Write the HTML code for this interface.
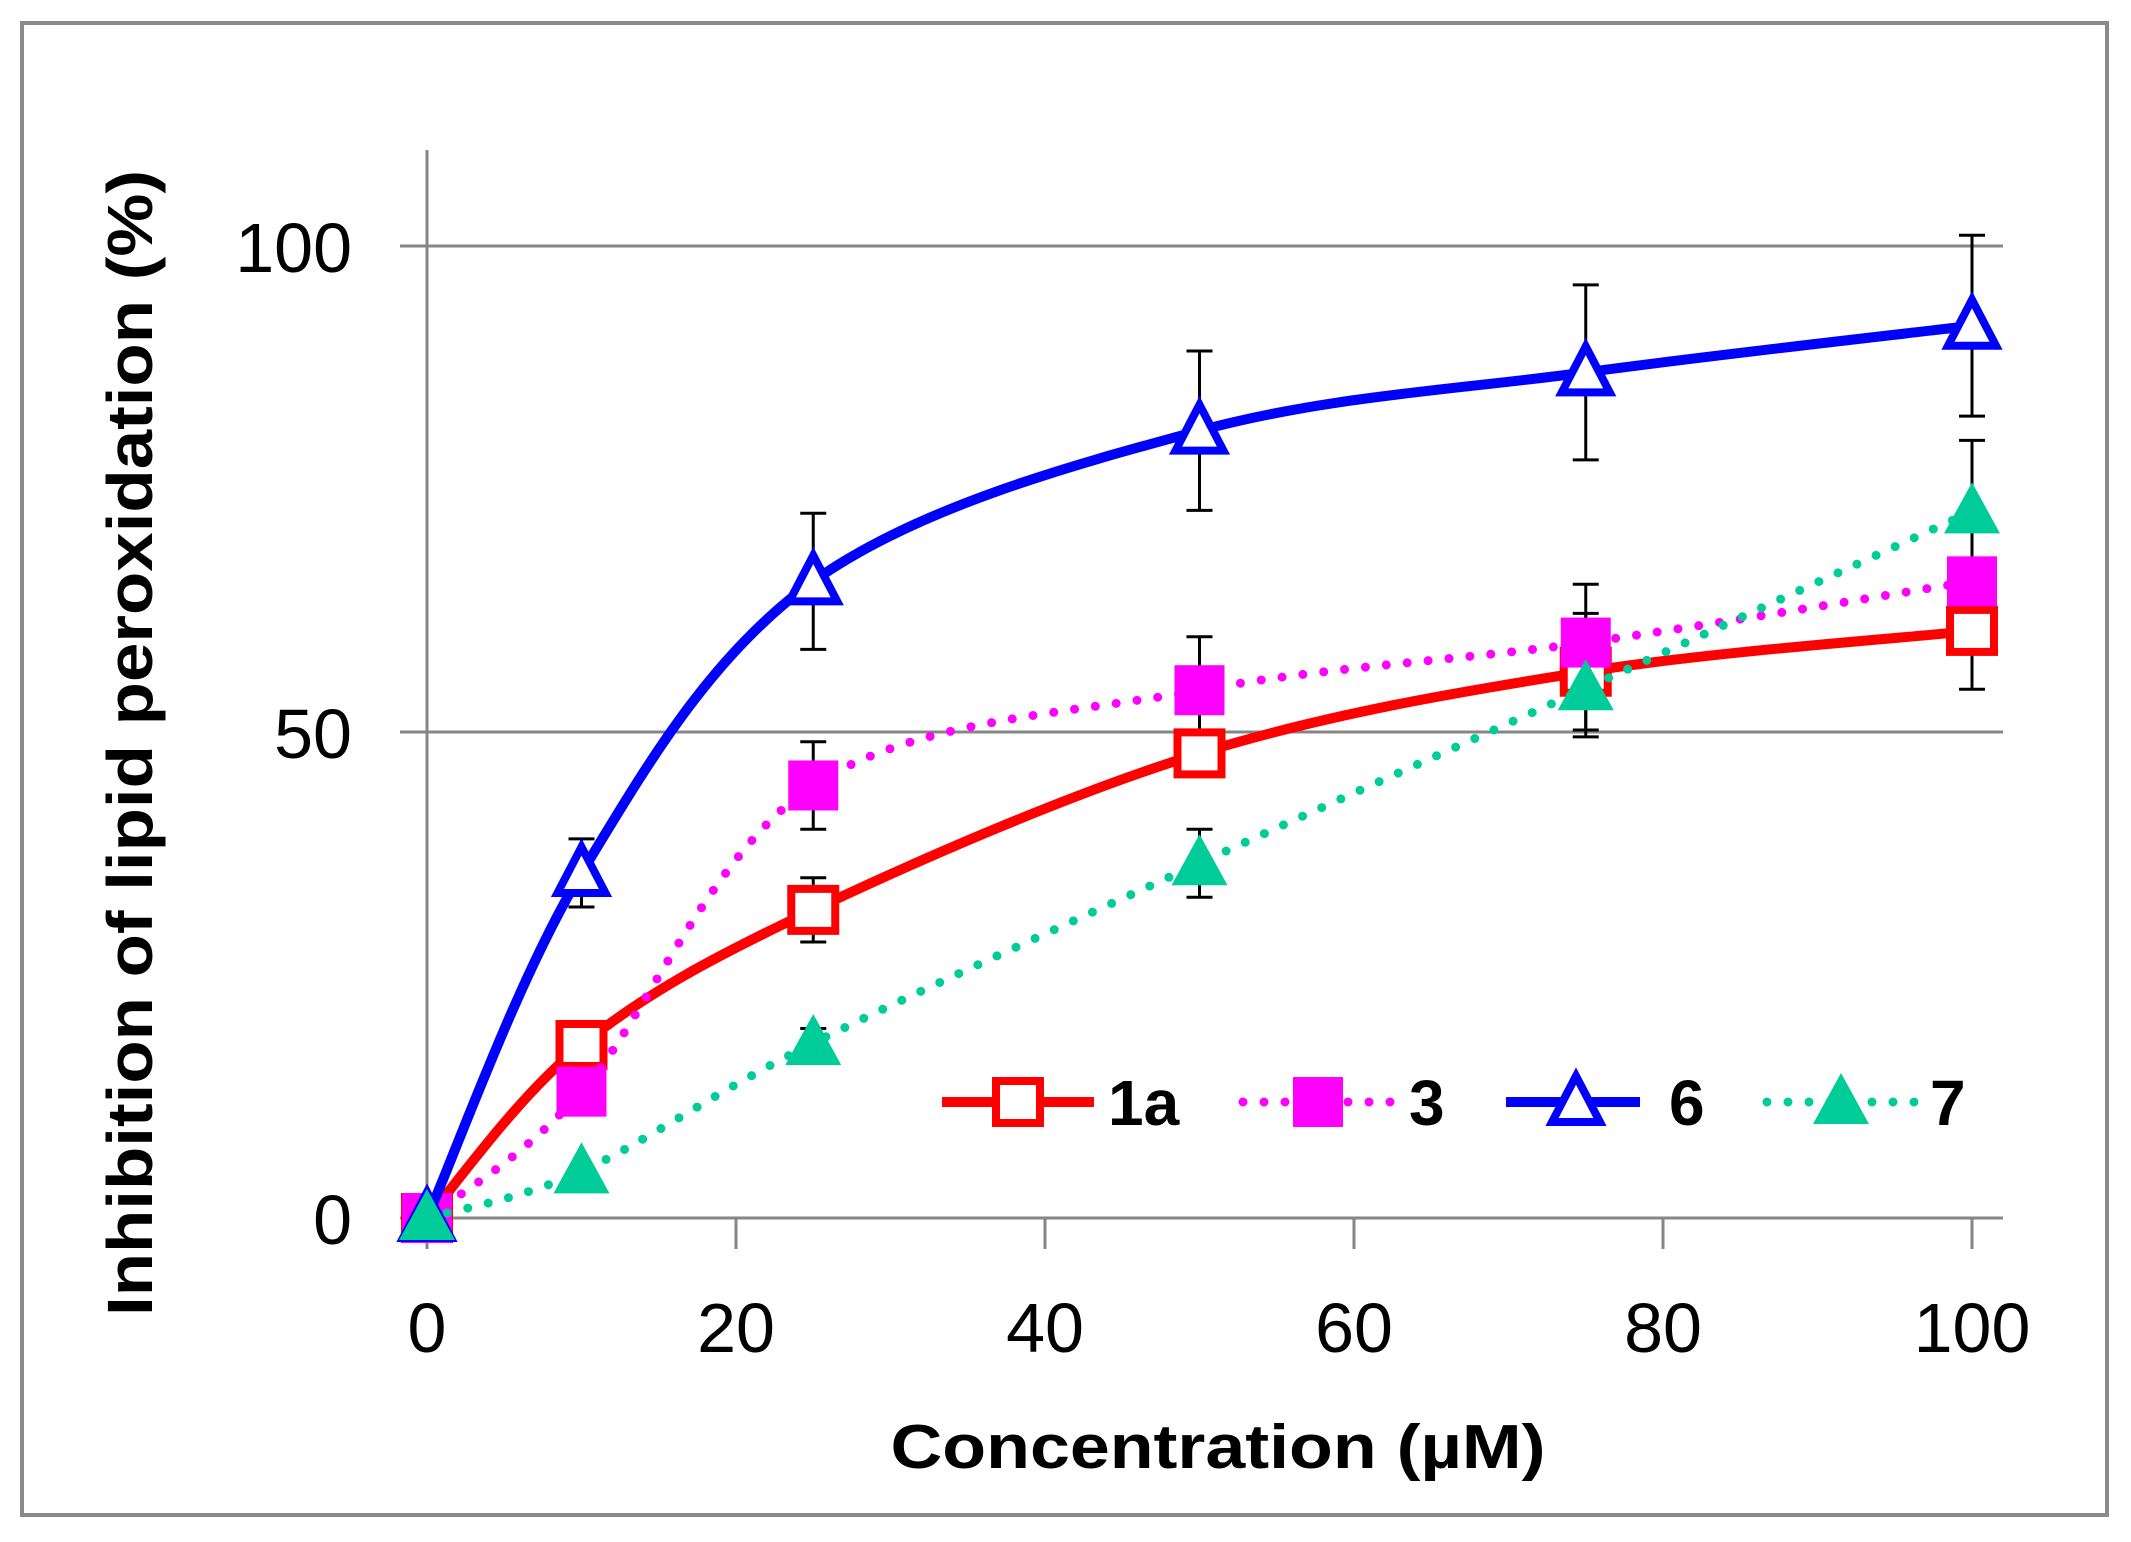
<!DOCTYPE html>
<html><head><meta charset="utf-8"><style>
html,body{margin:0;padding:0;background:#fff;}
svg{display:block;}
text{font-family:"Liberation Sans",sans-serif;}
</style></head><body>
<svg id="chart" width="2131" height="1542" viewBox="0 0 2131 1542" xmlns="http://www.w3.org/2000/svg">
<rect x="22" y="23" width="2085" height="1492" fill="#fff" stroke="#8a8a8a" stroke-width="4"/>
<g id="grid"></g>
<g id="axes"></g>
<g id="series"></g>
<g id="legend"></g>
<text x="1218" y="1468" text-anchor="middle" font-size="62" font-weight="bold" textLength="655" lengthAdjust="spacingAndGlyphs">Concentration (µM)</text>
<text transform="translate(152,743) rotate(-90)" text-anchor="middle" font-size="64" font-weight="bold" textLength="1146" lengthAdjust="spacingAndGlyphs">Inhibition of lipid peroxidation (%)</text>
</svg>
<script>
const categories = [0, 10, 25, 50, 75, 100];
const xTicks = [0, 20, 40, 60, 80, 100];
const yTicks = [0, 50, 100];
const names = ["1a", "3", "6", "7"];
const values1a = [0, 17.8, 31.7, 47.8, 56.2, 60.4];
const values3 = [0, 13, 44.5, 54.3, 59.2, 65.5];
const values6 = [0, 35.5, 65.5, 81, 87, 91.8];
const values7 = [0, 4.8, 18, 36.5, 54.5, 72.7];
const err1a = [0, 0, 3.3, 0, 6, 6];
const err3 = [0, 0, 4.5, 5.5, 6, 0];
const err6 = [0, 3.5, 7, 8.2, 9, 9.3];
const err7 = [0, 0, 1.5, 3.5, 5, 7.3];

const NS = "http://www.w3.org/2000/svg";
const X0 = 427, X1 = 1972, Y0 = 1218, Y1 = 246;
const xs = v => X0 + (v - 0) / 100 * (X1 - X0);
const ys = v => Y0 - v / 100 * (Y0 - Y1);
function mk(tag, attrs, parent) {
  const e = document.createElementNS(NS, tag);
  for (const k in attrs) e.setAttribute(k, attrs[k]);
  parent.appendChild(e);
  return e;
}
const grid = document.getElementById('grid');
const axes = document.getElementById('axes');
yTicks.forEach(t => {
  const l = mk('line', {x1: 400, x2: 2003, y1: ys(t), y2: ys(t), stroke: '#868686', 'stroke-width': 3}, grid);
  
  
  const tx = mk('text', {x: 352, y: ys(t) + 26, 'text-anchor': 'end', 'font-size': 70}, axes);
  tx.textContent = t;
  
  
});
const ya = mk('line', {x1: X0, x2: X0, y1: 150, y2: 1249, stroke: '#868686', 'stroke-width': 3}, axes);


xTicks.forEach(t => {
  const l = mk('line', {x1: xs(t), x2: xs(t), y1: Y0, y2: 1249, stroke: '#868686', 'stroke-width': 3}, axes);
  
  
  const tx = mk('text', {x: xs(t), y: 1352, 'text-anchor': 'middle', 'font-size': 70}, axes);
  tx.textContent = t;
  
  
});

function smooth(pts) {
  let d = 'M' + pts[0][0] + ',' + pts[0][1];
  const t = 1/6;
  for (let i = 0; i < pts.length - 1; i++) {
    const p0 = pts[Math.max(0, i - 1)], p1 = pts[i], p2 = pts[i + 1], p3 = pts[Math.min(pts.length - 1, i + 2)];
    const c1 = [p1[0] + (p2[0] - p0[0]) * t, p1[1] + (p2[1] - p0[1]) * t];
    const c2 = [p2[0] - (p3[0] - p1[0]) * t, p2[1] - (p3[1] - p1[1]) * t];
    d += ' C' + c1[0] + ',' + c1[1] + ' ' + c2[0] + ',' + c2[1] + ' ' + p2[0] + ',' + p2[1];
  }
  return d;
}
function marker(kind, color, cx, cy, parent) {
  if (kind === 'sqOpen') return mk('rect', {x: cx - 22, y: cy - 21, width: 44, height: 42, fill: '#fff', stroke: color, 'stroke-width': 8}, parent);
  if (kind === 'sqFill') return mk('rect', {x: cx - 25, y: cy - 25, width: 50, height: 50, fill: color}, parent);
  if (kind === 'triOpen') return mk('polygon', {points: `${cx},${cy - 26} ${cx + 24},${cy + 20} ${cx - 24},${cy + 20}`, fill: '#fff', stroke: color, 'stroke-width': 8}, parent);
  return mk('polygon', {points: `${cx},${cy - 29} ${cx + 28},${cy + 22} ${cx - 28},${cy + 22}`, fill: color}, parent);
}
const seriesDefs = [
  {vals: values1a, errs: err1a, color: '#ff0000', dotted: false, kind: 'sqOpen'},
  {vals: values3, errs: err3, color: '#ff00ff', dotted: true, kind: 'sqFill'},
  {vals: values6, errs: err6, color: '#0000ff', dotted: false, kind: 'triOpen'},
  {vals: values7, errs: err7, color: '#00cc99', dotted: true, kind: 'triFill'}
];
const sg = document.getElementById('series');
const errG = mk('g', {}, sg);


seriesDefs.forEach((s, si) => {
  s.vals.forEach((v, i) => {
    const e = s.errs[i];
    if (!e) return;
    const x = xs(categories[i]);
    mk('line', {x1: x, x2: x, y1: ys(v + e), y2: ys(v - e), stroke: '#000', 'stroke-width': 3}, errG);
    mk('line', {x1: x - 13, x2: x + 13, y1: ys(v + e), y2: ys(v + e), stroke: '#000', 'stroke-width': 3}, errG);
    mk('line', {x1: x - 13, x2: x + 13, y1: ys(v - e), y2: ys(v - e), stroke: '#000', 'stroke-width': 3}, errG);
  });
});
seriesDefs.forEach((s, si) => {
  const g = mk('g', {}, sg);
  
  
  const pts = s.vals.map((v, i) => [xs(categories[i]), ys(v)]);
  const attrs = {d: smooth(pts), fill: 'none', stroke: s.color, 'stroke-width': s.dotted ? 9 : 10};
  if (s.dotted) { attrs['stroke-dasharray'] = '0 21'; attrs['stroke-linecap'] = 'round'; }
  const p = mk('path', attrs, g);
  
  
  pts.forEach(pt => {
    const m = marker(s.kind, s.color, pt[0], pt[1], g);
    
    
  });
});
const lg = document.getElementById('legend');
const legPos = [[942, 1094, 1018, 1108], [1243, 1400, 1318, 1409], [1506, 1640, 1576, 1669], [1767, 1923, 1841, 1930]];
seriesDefs.forEach((s, si) => {
  const [a, b, m, tx] = legPos[si];
  const g = mk('g', {}, lg);
  
  
  const la = {x1: a, x2: b, y1: 1102, y2: 1102, stroke: s.color, 'stroke-width': s.dotted ? 9 : 10};
  if (s.dotted) { la['stroke-dasharray'] = '0 21'; la['stroke-linecap'] = 'round'; }
  mk('line', la, g);
  marker(s.kind, s.color, m, 1102, g);
  const t = mk('text', {x: tx, y: 1125, 'font-size': 64, 'font-weight': 'bold'}, g);
  t.textContent = names[si];
});
</script>
</body></html>
